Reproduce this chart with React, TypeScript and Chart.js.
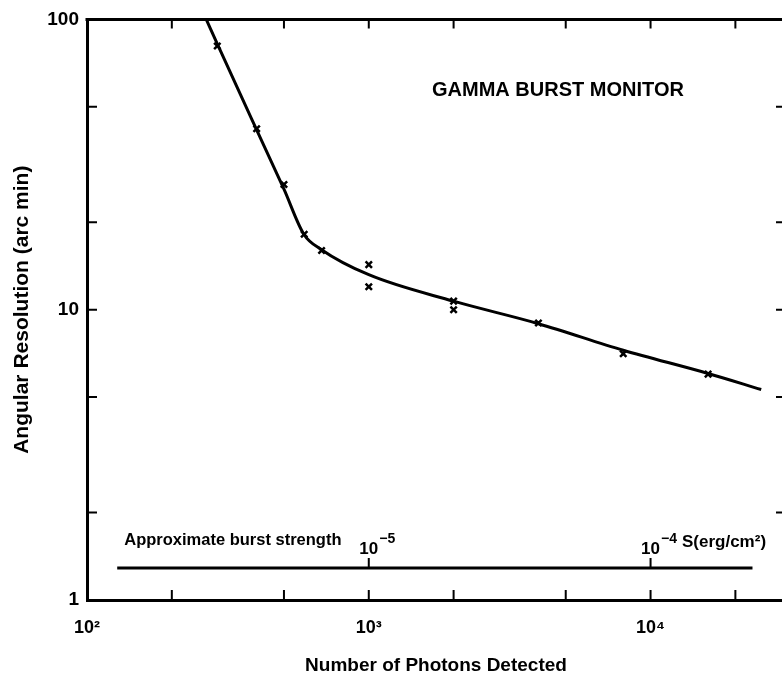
import React, { useEffect, useRef } from "react";
import { Chart, registerables } from "chart.js";

Chart.register(...registerables);

const FONT = "'Liberation Sans', Arial, 'DejaVu Sans', sans-serif";

// Smooth fitted curve through the measurements (number of photons -> arc min)
const curveX = [265, 290, 400, 500, 588, 680, 1000, 2000, 4000, 8000, 16000, 24700];
const curveY = [100, 82.3, 41.6, 26.0, 18.2, 16.1, 13.2, 10.7, 8.95, 7.25, 6.03, 5.31];

// Individual measured points (x marks)
const markerX = [290, 400, 500, 590, 680, 1000, 1000, 2000, 2000, 4000, 8000, 16000];
const markerY = [81, 42, 27, 18.2, 16, 14.3, 12.0, 10.7, 10.0, 9.0, 7.05, 6.0];

// Approximate burst strength scale
const burstX = [128, 23000];
const burstLevel = 1.29;
const burstTickX = [1000, 10000];
const burstTickExp = ["\u22125", "\u22124"];
const burstUnit = "S(erg/cm\u00B2)";

// Axis ticks
const xTickValues = [100, 1000, 10000];
const xTickLabels = ["10\u00B2", "10\u00B3", "10\u2074"];
const yTickValues = [1, 10, 100];
const xMinorTicks = [200, 500, 1000, 2000, 5000, 10000, 20000];
const yMinorTicks = [2, 5, 10, 20, 50];
const xRange = [100, 30000];
const yRange = [1, 100];

const titleAnchor = { x: 1677, y: 57 };

const annotations = {
  id: "annotations",
  afterDraw(chart: any) {
    const { ctx, chartArea: a } = chart;
    const xs = chart.scales.x;
    const ys = chart.scales.y;
    ctx.save();
    ctx.strokeStyle = "#000";
    ctx.fillStyle = "#000";
    // top and right frame lines
    ctx.lineWidth = 3;
    ctx.beginPath();
    ctx.moveTo(a.left - 1.5, a.top);
    ctx.lineTo(a.right, a.top);
    ctx.moveTo(a.right, a.top);
    ctx.lineTo(a.right, a.bottom);
    ctx.stroke();
    // inward ticks
    ctx.lineWidth = 2;
    ctx.beginPath();
    for (const v of xMinorTicks) {
      const px = xs.getPixelForValue(v);
      ctx.moveTo(px, a.bottom);
      ctx.lineTo(px, a.bottom - 10);
      ctx.moveTo(px, a.top);
      ctx.lineTo(px, a.top + 9);
    }
    for (const v of yMinorTicks) {
      const py = ys.getPixelForValue(v);
      ctx.moveTo(a.left, py);
      ctx.lineTo(a.left + 10, py);
      ctx.moveTo(a.right, py);
      ctx.lineTo(a.right - 9, py);
    }
    const by = ys.getPixelForValue(burstLevel);
    for (const v of burstTickX) {
      const px = xs.getPixelForValue(v);
      ctx.moveTo(px, by);
      ctx.lineTo(px, by - 10);
    }
    ctx.stroke();

    // title text
    ctx.font = `bold 20px ${FONT}`;
    ctx.textAlign = "left";
    ctx.textBaseline = "middle";
    ctx.fillText("GAMMA BURST MONITOR", xs.getPixelForValue(titleAnchor.x), ys.getPixelForValue(titleAnchor.y));

    // burst strength labels
    ctx.font = `bold 16.5px ${FONT}`;
    ctx.fillText("Approximate burst strength", xs.getPixelForValue(burstX[0]) + 7, by - 27);
    ctx.textBaseline = "alphabetic";
    burstTickX.forEach((v, i) => {
      const px = xs.getPixelForValue(v);
      ctx.font = `bold 17px ${FONT}`;
      ctx.textAlign = "center";
      ctx.fillText("10", px, by - 14);
      const w = ctx.measureText("10").width;
      ctx.font = `bold 14px ${FONT}`;
      ctx.textAlign = "left";
      const sx = px + w / 2 + 1;
      ctx.fillText(burstTickExp[i], sx, by - 25);
      if (i === burstTickX.length - 1) {
        const ew = ctx.measureText(burstTickExp[i]).width;
        ctx.font = `bold 17px ${FONT}`;
        ctx.fillText(burstUnit, sx + ew + 5, by - 21);
      }
    });
    ctx.restore();
  },
};

export default function App() {
  const ref = useRef<HTMLCanvasElement>(null);
  useEffect(() => {
    const chart = new Chart(ref.current as HTMLCanvasElement, {
      type: "line",
      data: {
        datasets: [
          {
            label: "Angular resolution",
            data: curveX.map((x, i) => ({ x, y: curveY[i] })),
            borderColor: "#000",
            borderWidth: 3,
            pointRadius: 0,
            cubicInterpolationMode: "monotone",
            fill: false,
          },
          {
            label: "Measured",
            data: markerX.map((x, i) => ({ x, y: markerY[i] })),
            showLine: false,
            pointStyle: "crossRot",
            pointRadius: 4.5,
            pointBorderWidth: 2.5,
            borderColor: "#000",
            backgroundColor: "#000",
          },
          {
            label: "Approximate burst strength",
            data: burstX.map((x) => ({ x, y: burstLevel })),
            borderColor: "#000",
            borderWidth: 3,
            pointRadius: 0,
            fill: false,
          },
        ],
      } as any,
      options: {
        responsive: false,
        animation: false,
        devicePixelRatio: 1,
        layout: { padding: { top: 18, right: 3, left: 0, bottom: 0 } },
        plugins: { legend: { display: false }, tooltip: { enabled: false } },
        scales: {
          x: {
            type: "logarithmic",
            position: "bottom",
            min: xRange[0],
            max: xRange[1],
            afterBuildTicks: (s: any) => {
              s.ticks = xTickValues.map((v) => ({ value: v }));
            },
            afterFit: (s: any) => {
              s.height = 80;
            },
            grid: { display: false, drawTicks: false },
            border: { display: true, width: 3, color: "#000" },
            ticks: {
              autoSkip: false,
              maxRotation: 0,
              padding: 17,
              color: "#000",
              font: { size: 18, weight: "bold", family: FONT },
              callback: (v: any) => {
                const i = xTickValues.indexOf(Number(v));
                return i >= 0 ? xTickLabels[i] : "";
              },
            },
            title: {
              display: true,
              text: "Number of Photons Detected",
              color: "#000",
              font: { size: 19, weight: "bold", family: FONT },
              padding: { top: 0, bottom: 3 },
            },
          },
          y: {
            type: "logarithmic",
            min: yRange[0],
            max: yRange[1],
            afterBuildTicks: (s: any) => {
              s.ticks = yTickValues.map((v) => ({ value: v }));
            },
            afterFit: (s: any) => {
              s.width = 87;
            },
            grid: { display: false, drawTicks: false },
            border: { display: true, width: 3, color: "#000" },
            ticks: {
              autoSkip: false,
              padding: 8,
              color: "#000",
              font: { size: 19, weight: "bold", family: FONT },
              callback: (v: any) => String(Number(v)),
            },
            title: {
              display: true,
              text: "Angular Resolution (arc min)",
              color: "#000",
              font: { size: 21, weight: "bold", family: FONT },
              padding: { top: 10, bottom: 0 },
            },
          },
        },
      } as any,
      plugins: [annotations],
    });
    return () => chart.destroy();
  }, []);
  return (
    <div
      style={{
        position: "fixed",
        left: 0,
        top: 0,
        width: 782,
        height: 680,
        overflow: "hidden",
        background: "#fff",
      }}
    >
      <canvas ref={ref} width={792} height={680} style={{ display: "block", width: 792, height: 680 }} />
    </div>
  );
}
